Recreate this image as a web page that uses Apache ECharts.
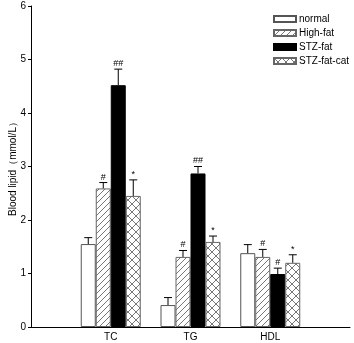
<!DOCTYPE html>
<html>
<head>
<meta charset="utf-8">
<script src="https://cdn.jsdelivr.net/npm/echarts@6/dist/echarts.min.js"></script>
<style>
  html, body { margin: 0; padding: 0; background: #fff; }
  #chart { width: 354px; height: 343px; }
</style>
</head>
<body>
<div id="chart"></div>
<script>
// groups along the x axis
var categories = ['TC', 'TG', 'HDL'];
var groups = ['normal', 'High-fat', 'STZ-fat', 'STZ-fat-cat'];

// means (mmol/L)
var normalVals = [1.55, 0.41, 1.38];
var highFatVals = [2.59, 1.31, 1.31];
var stzFatVals = [4.52, 2.87, 0.99];
var stzFatCatVals = [2.45, 1.59, 1.20];

// error bars (upper only)
var normalErr = [0.12, 0.14, 0.16];
var highFatErr = [0.11, 0.12, 0.14];
var stzFatErr = [0.30, 0.13, 0.11];
var stzFatCatErr = [0.30, 0.11, 0.15];

// significance marks
var normalMarks = ['', '', ''];
var highFatMarks = ['#', '#', '#'];
var stzFatMarks = ['##', '##', '#'];
var stzFatCatMarks = ['*', '*', '*'];

var yTicks = [0, 1, 2, 3, 4, 5, 6];

var barW = 15;

function hatch(cross) {
  var s = cross ? 8 : 6;
  var c = document.createElement('canvas');
  c.width = s; c.height = s;
  var ctx = c.getContext('2d');
  ctx.fillStyle = '#fff';
  ctx.fillRect(0, 0, s, s);
  ctx.strokeStyle = '#777';
  ctx.lineWidth = 1;
  ctx.beginPath();
  ctx.moveTo(0, s); ctx.lineTo(s, 0);
  ctx.moveTo(-1, 1); ctx.lineTo(1, -1);
  ctx.moveTo(s - 1, s + 1); ctx.lineTo(s + 1, s - 1);
  if (cross) {
    ctx.moveTo(0, 0); ctx.lineTo(s, s);
    ctx.moveTo(s - 1, -1); ctx.lineTo(s + 1, 1);
    ctx.moveTo(-1, s - 1); ctx.lineTo(1, s + 1);
  }
  ctx.stroke();
  return c;
}

var styles = [
  { color: '#fff', borderColor: '#555', borderWidth: 1 },
  { color: { image: hatch(false), repeat: 'repeat' }, borderColor: '#666', borderWidth: 1 },
  { color: '#000', borderColor: '#000', borderWidth: 1 },
  { color: { image: hatch(true), repeat: 'repeat' }, borderColor: '#666', borderWidth: 1 }
];

var vals = [normalVals, highFatVals, stzFatVals, stzFatCatVals];
var errs = [normalErr, highFatErr, stzFatErr, stzFatCatErr];
var marks = [normalMarks, highFatMarks, stzFatMarks, stzFatCatMarks];

// empty slot at each end so the groups sit on ticks 1..3 of 0..4
var axisData = [''].concat(categories, ['']);
function pad(arr) { return ['-'].concat(arr, ['-']); }

var series = [];
groups.forEach(function (name, i) {
  series.push({
    name: name,
    type: 'bar',
    barWidth: barW,
    barGap: '0%',
    data: pad(vals[i]),
    itemStyle: styles[i],
    silent: true
  });
});

groups.forEach(function (name, i) {
  var offset = (i - 1.5) * barW;
  series.push({
    type: 'custom',
    silent: true,
    z: 5,
    data: vals[i].map(function (v, j) { return [j + 1, v, errs[i][j], marks[i][j]]; }),
    renderItem: function (params, api) {
      var base = api.coord([api.value(0), api.value(1)]);
      var top = api.coord([api.value(0), api.value(1) + api.value(2)]);
      var x = base[0] + offset;
      var mark = marks[i][params.dataIndex];
      return {
        type: 'group',
        children: [
          { type: 'line', shape: { x1: x, y1: base[1], x2: x, y2: top[1] }, style: { stroke: '#000', lineWidth: 1 } },
          { type: 'line', shape: { x1: x - 4, y1: top[1], x2: x + 4, y2: top[1] }, style: { stroke: '#000', lineWidth: 1 } },
          { type: 'text', style: { text: mark, x: x, y: top[1] - 1, align: 'center', verticalAlign: 'bottom', fill: '#000', font: '9px "Liberation Sans", Arial, sans-serif' } }
        ]
      };
    }
  });
});

var chart = echarts.init(document.getElementById('chart'));
chart.setOption({
  animation: false,
  textStyle: { fontFamily: '"Liberation Sans", Arial, sans-serif' },
  grid: { left: 31, right: 4, top: 6, bottom: 16, outerBoundsMode: 'none' },
  legend: {
    orient: 'vertical',
    left: 268,
    top: 9,
    itemWidth: 22,
    itemHeight: 6,
    itemGap: 4,
    icon: 'rect',
    data: groups,
    textStyle: { fontSize: 10, color: '#000', padding: [0, 0, 0, -2] }
  },
  xAxis: {
    type: 'category',
    data: axisData,
    boundaryGap: false,
    axisLine: { lineStyle: { color: '#000', width: 1 } },
    axisTick: { show: false },
    axisLabel: { color: '#000', fontSize: 10, margin: 5, interval: 0 }
  },
  yAxis: {
    type: 'value',
    min: yTicks[0],
    max: yTicks[yTicks.length - 1],
    interval: 1,
    name: 'Blood lipid（mmol/L）',
    nameLocation: 'middle',
    nameGap: 13,
    nameMoveOverlap: false,
    nameTextStyle: { color: '#000', fontSize: 10 },
    splitLine: { show: false },
    axisLine: { show: true, lineStyle: { color: '#000', width: 1 } },
    axisTick: { show: true, length: 3, lineStyle: { color: '#000' } },
    axisLabel: { color: '#000', fontSize: 10, margin: 5 }
  },
  series: series
});
</script>
</body>
</html>
